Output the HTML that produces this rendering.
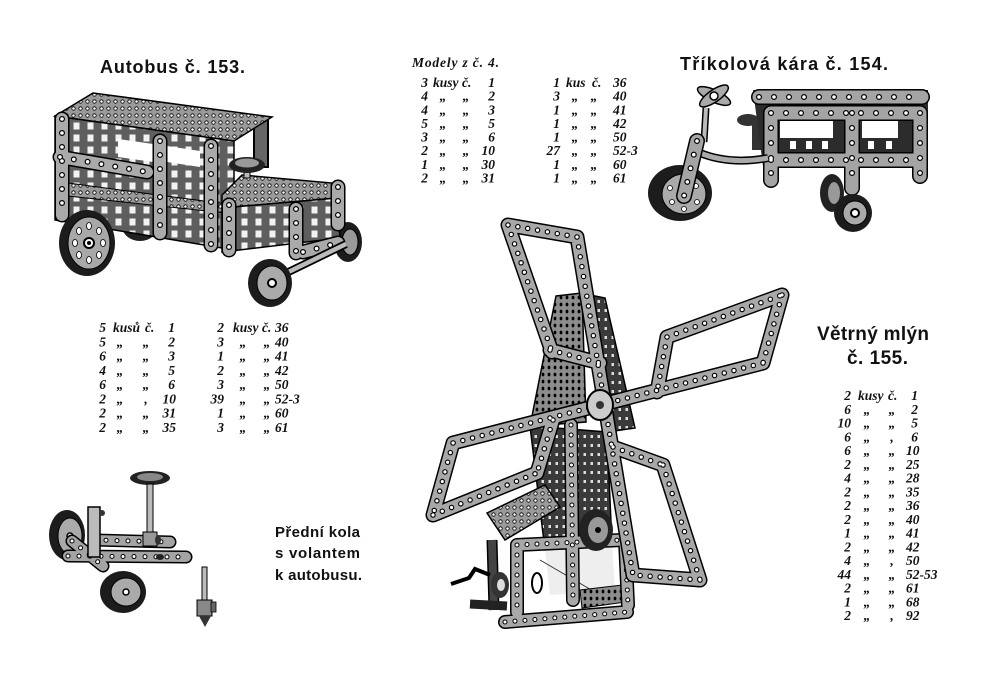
<!DOCTYPE html>
<html><head><meta charset="utf-8">
<style>
html,body{margin:0;padding:0;background:#fff;}
svg{display:block}
.t{font-family:"Liberation Sans",sans-serif;font-weight:bold;fill:#111}
.r{font-family:"Liberation Serif",serif;font-style:italic;font-weight:bold;font-size:13.5px;fill:#111}
</style></head><body>
<svg width="1000" height="700" viewBox="0 0 1000 700" xmlns="http://www.w3.org/2000/svg">
<defs>
<pattern id="pw" width="7" height="7" patternUnits="userSpaceOnUse"><rect width="7" height="7" fill="#9a9a9a"/><circle cx="3.5" cy="3.5" r="1.7" fill="#fff" stroke="#000" stroke-width="0.8"/></pattern>
<pattern id="pd" width="6" height="7" patternUnits="userSpaceOnUse"><rect width="6" height="7" fill="#8d8d8d"/><ellipse cx="3" cy="3.5" rx="1.4" ry="1.9" fill="#000"/></pattern>
<pattern id="sq" width="14" height="12" patternUnits="userSpaceOnUse"><rect width="14" height="12" fill="#5e5e5e"/><rect x="3.5" y="2.5" width="6" height="7" fill="#f2f2f2"/></pattern>
<pattern id="dk" width="7" height="9" patternUnits="userSpaceOnUse"><rect width="7" height="9" fill="#3a3a3a"/><rect x="2.5" y="3" width="2.5" height="3" fill="#ddd"/></pattern>
<path id="wm" d="M508,225 L577,237 M508,225 L552,352 M577,237 L633,575 M550,350 L600,363 M667,337 L782,295 M782,295 L763,363 M763,363 L453,443 M667,337 L657,392 M453,443 L433,515 M433,515 L537,473 M553,420 L537,473 M613,447 L663,465 M663,465 L700,580 M700,580 L633,575"/>
<path id="wb" d="M517,545 L622,540 M517,545 L517,612 M625,540 L628,605 M505,622 L627,612 M571,425 L573,600"/>
<path id="bs" d="M62,119 L62,215 M60,157 L147,172 M160,141 L160,233 M211,146 L211,245 M229,205 L229,250 M296,209 L296,253 M338,187 L338,224 M303,252 L338,243"/>
<path id="ts" d="M759,97 L922,97 M771,113 L920,113 M771,160 L920,160 M771,113 L771,180 M852,113 L852,188 M920,113 L920,176"/>
<path id="tf" d="M697,141 L684,196"/>
<path id="fs" d="M68,556 L186,557 M95,540 L170,542 M72,541 L103,566"/>
</defs>

<!-- ===== Titles ===== -->
<text class="t" x="100" y="73" font-size="18" textLength="145" lengthAdjust="spacing">Autobus č. 153.</text>
<text class="t" x="680" y="70" font-size="18" textLength="208" lengthAdjust="spacing">Tříkolová kára č. 154.</text>
<text class="t" x="817" y="340" font-size="19" textLength="112" lengthAdjust="spacing">Větrný mlýn</text>
<text class="t" x="847" y="364" font-size="19" textLength="61" lengthAdjust="spacing">č. 155.</text>
<text class="t" x="275" y="537" font-size="15" textLength="85" lengthAdjust="spacing">Přední kola</text>
<text class="t" x="275" y="558" font-size="15" textLength="85" lengthAdjust="spacing">s volantem</text>
<text class="t" x="275" y="580" font-size="15" textLength="87" lengthAdjust="spacing">k autobusu.</text>

<!-- ===== Modely table ===== -->
<text class="r" x="412" y="67" textLength="87" lengthAdjust="spacing">Modely z č. 4.</text>
<text class="r" text-anchor="end"><tspan x="428" y="87">3</tspan><tspan x="428" y="100.6">4</tspan><tspan x="428" y="114.3">4</tspan><tspan x="428" y="127.9">5</tspan><tspan x="428" y="141.6">3</tspan><tspan x="428" y="155.2">2</tspan><tspan x="428" y="168.8">1</tspan><tspan x="428" y="182.5">2</tspan></text>
<text class="r" x="433" y="87">kusy</text><text class="r" x="462" y="87">č.</text>
<text class="r" text-anchor="middle"><tspan x="443" y="100.6">„</tspan><tspan x="443" y="114.3">„</tspan><tspan x="443" y="127.9">„</tspan><tspan x="443" y="141.6">„</tspan><tspan x="443" y="155.2">„</tspan><tspan x="443" y="168.8">„</tspan><tspan x="443" y="182.5">„</tspan></text>
<text class="r" text-anchor="middle"><tspan x="466" y="100.6">„</tspan><tspan x="466" y="114.3">„</tspan><tspan x="466" y="127.9">„</tspan><tspan x="466" y="141.6">„</tspan><tspan x="466" y="155.2">„</tspan><tspan x="466" y="168.8">„</tspan><tspan x="466" y="182.5">„</tspan></text>
<text class="r" text-anchor="end"><tspan x="495" y="87">1</tspan><tspan x="495" y="100.6">2</tspan><tspan x="495" y="114.3">3</tspan><tspan x="495" y="127.9">5</tspan><tspan x="495" y="141.6">6</tspan><tspan x="495" y="155.2">10</tspan><tspan x="495" y="168.8">30</tspan><tspan x="495" y="182.5">31</tspan></text>
<text class="r" text-anchor="end"><tspan x="560" y="87">1</tspan><tspan x="560" y="100.6">3</tspan><tspan x="560" y="114.3">1</tspan><tspan x="560" y="127.9">1</tspan><tspan x="560" y="141.6">1</tspan><tspan x="560" y="155.2">27</tspan><tspan x="560" y="168.8">1</tspan><tspan x="560" y="182.5">1</tspan></text>
<text class="r" x="566" y="87">kus</text><text class="r" x="592" y="87">č.</text>
<text class="r" text-anchor="middle"><tspan x="575" y="100.6">„</tspan><tspan x="575" y="114.3">„</tspan><tspan x="575" y="127.9">„</tspan><tspan x="575" y="141.6">„</tspan><tspan x="575" y="155.2">„</tspan><tspan x="575" y="168.8">„</tspan><tspan x="575" y="182.5">„</tspan></text>
<text class="r" text-anchor="middle"><tspan x="594" y="100.6">„</tspan><tspan x="594" y="114.3">„</tspan><tspan x="594" y="127.9">„</tspan><tspan x="594" y="141.6">„</tspan><tspan x="594" y="155.2">„</tspan><tspan x="594" y="168.8">„</tspan><tspan x="594" y="182.5">„</tspan></text>
<text class="r"><tspan x="613" y="87">36</tspan><tspan x="613" y="100.6">40</tspan><tspan x="613" y="114.3">41</tspan><tspan x="613" y="127.9">42</tspan><tspan x="613" y="141.6">50</tspan><tspan x="613" y="155.2">52-3</tspan><tspan x="613" y="168.8">60</tspan><tspan x="613" y="182.5">61</tspan></text>

<!-- ===== Bus table ===== -->
<text class="r" text-anchor="end"><tspan x="106" y="332">5</tspan><tspan x="106" y="346.3">5</tspan><tspan x="106" y="360.6">6</tspan><tspan x="106" y="374.9">4</tspan><tspan x="106" y="389.1">6</tspan><tspan x="106" y="403.4">2</tspan><tspan x="106" y="417.7">2</tspan><tspan x="106" y="432">2</tspan></text>
<text class="r" x="113" y="332">kusů</text><text class="r" x="145" y="332">č.</text>
<text class="r" text-anchor="middle"><tspan x="120" y="346.3">„</tspan><tspan x="120" y="360.6">„</tspan><tspan x="120" y="374.9">„</tspan><tspan x="120" y="389.1">„</tspan><tspan x="120" y="403.4">„</tspan><tspan x="120" y="417.7">„</tspan><tspan x="120" y="432">„</tspan></text>
<text class="r" text-anchor="middle"><tspan x="146" y="346.3">„</tspan><tspan x="146" y="360.6">„</tspan><tspan x="146" y="374.9">„</tspan><tspan x="146" y="389.1">„</tspan><tspan x="146" y="403.4">,</tspan><tspan x="146" y="417.7">„</tspan><tspan x="146" y="432">„</tspan></text>
<text class="r" text-anchor="end"><tspan x="175" y="332">1</tspan><tspan x="175" y="346.3">2</tspan><tspan x="175" y="360.6">3</tspan><tspan x="175" y="374.9">5</tspan><tspan x="175" y="389.1">6</tspan><tspan x="176" y="403.4">10</tspan><tspan x="176" y="417.7">31</tspan><tspan x="176" y="432">35</tspan></text>
<text class="r" text-anchor="end"><tspan x="224" y="332">2</tspan><tspan x="224" y="346.3">3</tspan><tspan x="224" y="360.6">1</tspan><tspan x="224" y="374.9">2</tspan><tspan x="224" y="389.1">3</tspan><tspan x="224" y="403.4">39</tspan><tspan x="224" y="417.7">1</tspan><tspan x="224" y="432">3</tspan></text>
<text class="r" x="233" y="332">kusy</text><text class="r" x="262" y="332">č.</text>
<text class="r" text-anchor="middle"><tspan x="243" y="346.3">„</tspan><tspan x="243" y="360.6">„</tspan><tspan x="243" y="374.9">„</tspan><tspan x="243" y="389.1">„</tspan><tspan x="243" y="403.4">„</tspan><tspan x="243" y="417.7">„</tspan><tspan x="243" y="432">„</tspan></text>
<text class="r" text-anchor="middle"><tspan x="267" y="346.3">„</tspan><tspan x="267" y="360.6">„</tspan><tspan x="267" y="374.9">„</tspan><tspan x="267" y="389.1">„</tspan><tspan x="267" y="403.4">„</tspan><tspan x="267" y="417.7">„</tspan><tspan x="267" y="432">„</tspan></text>
<text class="r"><tspan x="275" y="332">36</tspan><tspan x="275" y="346.3">40</tspan><tspan x="275" y="360.6">41</tspan><tspan x="275" y="374.9">42</tspan><tspan x="275" y="389.1">50</tspan><tspan x="275" y="403.4">52-3</tspan><tspan x="275" y="417.7">60</tspan><tspan x="275" y="432">61</tspan></text>

<!-- ===== Windmill table ===== -->
<text class="r" text-anchor="end"><tspan x="851" y="400">2</tspan><tspan x="851" y="413.75">6</tspan><tspan x="851" y="427.5">10</tspan><tspan x="851" y="441.25">6</tspan><tspan x="851" y="455">6</tspan><tspan x="851" y="468.75">2</tspan><tspan x="851" y="482.5">4</tspan><tspan x="851" y="496.25">2</tspan><tspan x="851" y="510">2</tspan><tspan x="851" y="523.75">2</tspan><tspan x="851" y="537.5">1</tspan><tspan x="851" y="551.25">2</tspan><tspan x="851" y="565">4</tspan><tspan x="851" y="578.75">44</tspan><tspan x="851" y="592.5">2</tspan><tspan x="851" y="606.25">1</tspan><tspan x="851" y="620">2</tspan></text>
<text class="r" x="858" y="400">kusy</text><text class="r" x="888" y="400">č.</text>
<text class="r" text-anchor="middle"><tspan x="867" y="413.75">„</tspan><tspan x="867" y="427.5">„</tspan><tspan x="867" y="441.25">„</tspan><tspan x="867" y="455">„</tspan><tspan x="867" y="468.75">„</tspan><tspan x="867" y="482.5">„</tspan><tspan x="867" y="496.25">„</tspan><tspan x="867" y="510">„</tspan><tspan x="867" y="523.75">„</tspan><tspan x="867" y="537.5">„</tspan><tspan x="867" y="551.25">„</tspan><tspan x="867" y="565">„</tspan><tspan x="867" y="578.75">„</tspan><tspan x="867" y="592.5">„</tspan><tspan x="867" y="606.25">„</tspan><tspan x="867" y="620">„</tspan></text>
<text class="r" text-anchor="middle"><tspan x="892" y="413.75">„</tspan><tspan x="892" y="427.5">„</tspan><tspan x="892" y="441.25">,</tspan><tspan x="892" y="455">„</tspan><tspan x="892" y="468.75">„</tspan><tspan x="892" y="482.5">„</tspan><tspan x="892" y="496.25">„</tspan><tspan x="892" y="510">„</tspan><tspan x="892" y="523.75">„</tspan><tspan x="892" y="537.5">„</tspan><tspan x="892" y="551.25">„</tspan><tspan x="892" y="565">,</tspan><tspan x="892" y="578.75">„</tspan><tspan x="892" y="592.5">„</tspan><tspan x="892" y="606.25">„</tspan><tspan x="892" y="620">,</tspan></text>
<text class="r" text-anchor="end"><tspan x="918" y="400">1</tspan><tspan x="918" y="413.75">2</tspan><tspan x="918" y="427.5">5</tspan><tspan x="918" y="441.25">6</tspan></text>
<text class="r"><tspan x="906" y="455">10</tspan><tspan x="906" y="468.75">25</tspan><tspan x="906" y="482.5">28</tspan><tspan x="906" y="496.25">35</tspan><tspan x="906" y="510">36</tspan><tspan x="906" y="523.75">40</tspan><tspan x="906" y="537.5">41</tspan><tspan x="906" y="551.25">42</tspan><tspan x="906" y="565">50</tspan><tspan x="906" y="578.75">52-53</tspan><tspan x="906" y="592.5">61</tspan><tspan x="906" y="606.25">68</tspan><tspan x="906" y="620">92</tspan></text>

<!-- ===== BUS ===== -->
<ellipse cx="140" cy="226" rx="18" ry="15" fill="#222"/>
<ellipse cx="348" cy="242" rx="14" ry="20" fill="#1c1c1c"/>
<ellipse cx="350" cy="242" rx="8" ry="13" fill="#999" stroke="#000"/>
<line x1="261" y1="118" x2="261" y2="168" stroke="#000" stroke-width="16"/>
<line x1="261" y1="120" x2="261" y2="166" stroke="#666" stroke-width="12"/>
<polygon points="55,116 93,93 272,117 234,141" fill="url(#pw)" stroke="#000" stroke-width="1.5"/>
<polygon points="55,116 234,141 234,250 55,220" fill="url(#sq)" stroke="#000" stroke-width="1.5"/>
<polygon points="118,139 153,144 153,162 118,157" fill="#fff"/>
<polygon points="167,146 200,151 200,167 167,162" fill="#fff"/>
<polygon points="68,183 234,205 234,214 68,196" fill="url(#pw)" stroke="#000"/>
<polygon points="222,195 242,175 343,184 337,198 222,208" fill="url(#pw)" stroke="#000" stroke-width="1.5"/>
<polygon points="222,208 337,198 340,238 222,252" fill="url(#sq)" stroke="#000" stroke-width="1.5"/>
<rect x="244" y="160" width="6" height="18" fill="#bbb" stroke="#000"/>
<ellipse cx="247" cy="165" rx="18" ry="8" fill="#222"/>
<ellipse cx="247" cy="163" rx="12" ry="4.5" fill="#999"/>
<use href="#bs" fill="none" stroke="#000" stroke-width="15" stroke-linecap="round"/>
<use href="#bs" fill="none" stroke="#aaa" stroke-width="12" stroke-linecap="round"/>
<use href="#bs" fill="none" stroke="#000" stroke-width="6" stroke-dasharray="0 14" stroke-linecap="round"/>
<use href="#bs" fill="none" stroke="#fff" stroke-width="3.6" stroke-dasharray="0 14" stroke-linecap="round"/>
<line x1="272" y1="280" x2="346" y2="244" stroke="#000" stroke-width="8"/>
<line x1="272" y1="280" x2="346" y2="244" stroke="#bbb" stroke-width="4.5"/>
<ellipse cx="87" cy="243" rx="28" ry="33" fill="#1c1c1c"/>
<ellipse cx="89" cy="243" rx="21" ry="26" fill="#a8a8a8" stroke="#000"/>
<g fill="#fff" stroke="#000" stroke-width="0.8">
<ellipse cx="103" cy="243" rx="2.5" ry="3.5"/><ellipse cx="99" cy="255" rx="2.5" ry="3.5"/><ellipse cx="89" cy="260" rx="2.5" ry="3.5"/><ellipse cx="79" cy="255" rx="2.5" ry="3.5"/><ellipse cx="75" cy="243" rx="2.5" ry="3.5"/><ellipse cx="79" cy="231" rx="2.5" ry="3.5"/><ellipse cx="89" cy="226" rx="2.5" ry="3.5"/><ellipse cx="99" cy="231" rx="2.5" ry="3.5"/>
</g>
<circle cx="89" cy="243" r="5" fill="#fff" stroke="#000" stroke-width="2"/><circle cx="89" cy="243" r="2" fill="#000"/>
<ellipse cx="270" cy="283" rx="22" ry="24" fill="#1c1c1c"/>
<ellipse cx="272" cy="283" rx="15" ry="17" fill="#aaa" stroke="#000"/>
<circle cx="272" cy="283" r="4" fill="#fff" stroke="#000" stroke-width="2"/>

<!-- ===== TRICYCLE ===== -->
<ellipse cx="748" cy="120" rx="11" ry="6" fill="#333"/>
<rect x="752" y="122" width="12" height="28" fill="#333"/>
<polygon points="753,90 928,90 928,166 763,166" fill="#2c2c2c"/>
<rect x="780" y="120" width="53" height="18" fill="#fff"/>
<rect x="862" y="120" width="36" height="18" fill="#fff"/>
<g fill="#fff"><rect x="790" y="141" width="6" height="8"/><rect x="806" y="141" width="6" height="8"/><rect x="822" y="141" width="6" height="8"/><rect x="868" y="141" width="6" height="8"/><rect x="886" y="141" width="6" height="8"/></g>
<ellipse cx="832" cy="193" rx="12" ry="19" fill="#222"/>
<ellipse cx="834" cy="193" rx="6" ry="11" fill="#999"/>
<use href="#ts" fill="none" stroke="#000" stroke-width="16" stroke-linecap="round"/>
<use href="#ts" fill="none" stroke="#a4a4a4" stroke-width="13" stroke-linecap="round"/>
<use href="#ts" fill="none" stroke="#000" stroke-width="6" stroke-dasharray="0 15" stroke-linecap="round"/>
<use href="#ts" fill="none" stroke="#fff" stroke-width="3.6" stroke-dasharray="0 15" stroke-linecap="round"/>
<ellipse cx="853" cy="213" rx="19" ry="19" fill="#1c1c1c"/>
<ellipse cx="855" cy="213" rx="12" ry="12" fill="#aaa" stroke="#000"/>
<circle cx="855" cy="213" r="4" fill="#fff" stroke="#000" stroke-width="2"/>
<path d="M700,153 Q730,165 768,158" fill="none" stroke="#000" stroke-width="8"/>
<path d="M700,153 Q730,165 768,158" fill="none" stroke="#aaa" stroke-width="5"/>
<ellipse cx="680" cy="193" rx="32" ry="28" fill="#1c1c1c"/>
<ellipse cx="684" cy="194" rx="22" ry="20" fill="#aaa" stroke="#000"/>
<g fill="#fff" stroke="#000" stroke-width="0.8"><circle cx="670" cy="188" r="2.5"/><circle cx="672" cy="202" r="2.5"/><circle cx="684" cy="209" r="2.5"/><circle cx="697" cy="202" r="2.5"/><circle cx="696" cy="186" r="2.5"/><circle cx="684" cy="180" r="2.5"/></g>
<line x1="706" y1="108" x2="704" y2="142" stroke="#000" stroke-width="7"/>
<line x1="706" y1="108" x2="704" y2="142" stroke="#bbb" stroke-width="4"/>
<use href="#tf" fill="none" stroke="#000" stroke-width="16" stroke-linecap="round"/>
<use href="#tf" fill="none" stroke="#a4a4a4" stroke-width="13" stroke-linecap="round"/>
<use href="#tf" fill="none" stroke="#000" stroke-width="6" stroke-dasharray="0 14" stroke-linecap="round"/>
<use href="#tf" fill="none" stroke="#fff" stroke-width="3.6" stroke-dasharray="0 14" stroke-linecap="round"/>
<ellipse cx="714" cy="96" rx="18" ry="6" transform="rotate(25 714 96)" fill="#aaa" stroke="#000" stroke-width="1.5"/>
<ellipse cx="714" cy="96" rx="17" ry="6" transform="rotate(-35 714 96)" fill="#aaa" stroke="#000" stroke-width="1.5"/>
<circle cx="714" cy="96" r="4" fill="#fff" stroke="#000" stroke-width="1.5"/>

<!-- ===== WINDMILL ===== -->
<polygon points="580,293 605,298 635,428 607,432" fill="url(#dk)" stroke="#000" stroke-width="1.5"/>
<polygon points="556,296 582,293 586,422 530,426" fill="url(#pd)" stroke="#000" stroke-width="1.5"/>
<polygon points="530,426 607,432 612,545 545,550" fill="url(#dk)" stroke="#000" stroke-width="1.5"/>
<polygon points="545,550 612,545 615,590 550,595" fill="#eee"/>
<line x1="540" y1="560" x2="600" y2="595" stroke="#333" stroke-width="1"/>
<ellipse cx="537" cy="583" rx="5" ry="10" fill="none" stroke="#000" stroke-width="2"/>
<polygon points="580,590 622,585 626,602 582,608" fill="url(#pd)" stroke="#000"/>
<line x1="492" y1="540" x2="494" y2="610" stroke="#000" stroke-width="11"/>
<line x1="492" y1="540" x2="494" y2="610" stroke="#444" stroke-width="8"/>
<line x1="470" y1="604" x2="507" y2="606" stroke="#222" stroke-width="9"/>
<polygon points="487,513 545,485 560,507 505,540" fill="url(#pw)" stroke="#000" stroke-width="1.5"/>
<use href="#wb" fill="none" stroke="#000" stroke-width="14" stroke-linecap="round"/>
<use href="#wb" fill="none" stroke="#a8a8a8" stroke-width="11" stroke-linecap="round"/>
<use href="#wb" fill="none" stroke="#000" stroke-width="5" stroke-dasharray="0 10" stroke-linecap="round"/>
<use href="#wb" fill="none" stroke="#fff" stroke-width="3" stroke-dasharray="0 10" stroke-linecap="round"/>
<ellipse cx="596" cy="530" rx="17" ry="21" fill="#222"/>
<ellipse cx="598" cy="530" rx="10" ry="13" fill="#999"/>
<circle cx="598" cy="530" r="3" fill="#000"/>
<ellipse cx="500" cy="585" rx="9" ry="13" fill="#333"/>
<ellipse cx="501" cy="585" rx="4" ry="6" fill="#ddd"/>
<polyline points="451,584 469,578 475,569 490,575" fill="none" stroke="#000" stroke-width="4"/>
<use href="#wm" fill="none" stroke="#000" stroke-width="15" stroke-linecap="round"/>
<use href="#wm" fill="none" stroke="#a8a8a8" stroke-width="12" stroke-linecap="round"/>
<use href="#wm" fill="none" stroke="#000" stroke-width="5.5" stroke-dasharray="0 10" stroke-linecap="round"/>
<use href="#wm" fill="none" stroke="#fff" stroke-width="3.2" stroke-dasharray="0 10" stroke-linecap="round"/>
<ellipse cx="600" cy="405" rx="13" ry="15" fill="#ccc" stroke="#000" stroke-width="2"/>
<circle cx="600" cy="405" r="4" fill="#333"/>

<!-- ===== FRONT WHEELS ASSEMBLY ===== -->
<ellipse cx="67" cy="535" rx="18" ry="25" fill="#1c1c1c"/>
<ellipse cx="70" cy="536" rx="12" ry="18" fill="#aaa" stroke="#000"/>
<circle cx="70" cy="536" r="3" fill="#fff" stroke="#000" stroke-width="1.5"/>
<use href="#fs" fill="none" stroke="#000" stroke-width="13" stroke-linecap="round"/>
<use href="#fs" fill="none" stroke="#a4a4a4" stroke-width="10" stroke-linecap="round"/>
<use href="#fs" fill="none" stroke="#000" stroke-width="5" stroke-dasharray="0 11" stroke-linecap="round"/>
<use href="#fs" fill="none" stroke="#fff" stroke-width="3" stroke-dasharray="0 11" stroke-linecap="round"/>
<rect x="88" y="507" width="12" height="50" fill="#bbb" stroke="#000" stroke-width="1.5"/>
<circle cx="102" cy="513" r="3" fill="#333"/>
<ellipse cx="150" cy="478" rx="20" ry="7" fill="#222"/>
<ellipse cx="150" cy="477" rx="13" ry="4" fill="#888"/>
<rect x="147" y="484" width="6" height="52" fill="#bbb" stroke="#000"/>
<rect x="143" y="532" width="14" height="14" fill="#999" stroke="#000"/>
<ellipse cx="158" cy="540" rx="3" ry="5" fill="#333"/>
<ellipse cx="160" cy="557" rx="4" ry="3" fill="#222"/>
<ellipse cx="123" cy="592" rx="23" ry="21" fill="#1c1c1c"/>
<ellipse cx="126" cy="592" rx="15" ry="14" fill="#aaa" stroke="#000"/>
<circle cx="126" cy="592" r="3" fill="#fff" stroke="#000" stroke-width="1.5"/>
<rect x="202" y="567" width="5" height="36" fill="#bbb" stroke="#000"/>
<rect x="197" y="600" width="15" height="16" fill="#888" stroke="#000"/>
<rect x="211" y="602" width="5" height="10" fill="#666" stroke="#000" stroke-width="0.8"/>
<polygon points="199,616 211,616 205,627" fill="#333"/>
</svg>
</body></html>
